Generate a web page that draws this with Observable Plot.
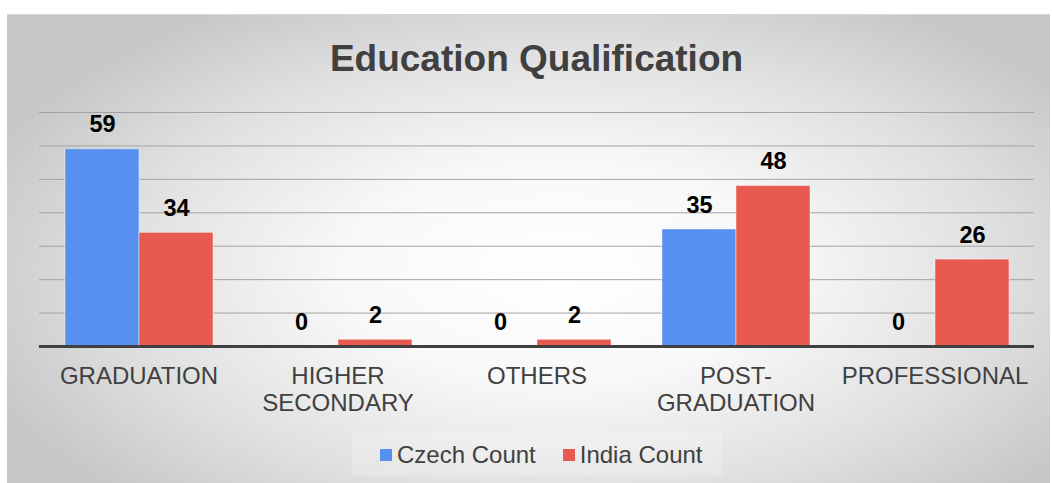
<!DOCTYPE html>
<html>
<head>
<meta charset="utf-8">
<script src="https://cdn.jsdelivr.net/npm/d3@7"></script>
<script src="https://cdn.jsdelivr.net/npm/@observablehq/plot@0.6"></script>
<style>
  html, body { margin: 0; padding: 0; background: #ffffff; }
  body { width: 1052px; height: 483px; position: relative; overflow: hidden;
         font-family: "Liberation Sans", Arial, sans-serif; }
  #frame { position: absolute; left: 7px; top: 14px; width: 1043px; height: 469px;
           border-top: 1px solid #d6d6d6;
           background: radial-gradient(ellipse 60% 68% at 53% 55%, #ffffff 0%, #f8f8f8 35%, #e0e0e0 70%, #c6c6c6 100%); }
  #title { position: absolute; left: 21px; width: 1031px; top: 40px; text-align: center;
           font-size: 37px; line-height: 37px; font-weight: bold; color: #404040; }
  #chart { position: absolute; left: 0; top: 105px; }
  #legendbox { position: absolute; left: 352px; top: 432px; width: 370px; height: 44px;
               background: rgba(255,255,255,0.2); }
  #legend { position: absolute; left: 380px; top: 441px; display: flex; align-items: center;
            font-size: 24px; color: #404040; line-height: 27px; }
  .sw { width: 12px; height: 12px; margin-right: 5px; display: inline-block; }
  .item { display: flex; align-items: center; margin-right: 27px; }
</style>
</head>
<body>
<div id="frame"></div>
<div id="title">Education Qualification</div>
<div id="chart"></div>
<div id="legendbox"></div>
<div id="legend"></div>
<script>
const categories = ["GRADUATION", "HIGHER SECONDARY", "OTHERS", "POST-GRADUATION", "PROFESSIONAL"];
const tickLabels = ["GRADUATION", "HIGHER\nSECONDARY", "OTHERS", "POST-\nGRADUATION", "PROFESSIONAL"];
const seriesNames = ["Czech Count", "India Count"];
const czechCount = [59, 0, 0, 35, 0];
const indiaCount = [34, 2, 2, 48, 26];
const seriesColors = ["#5890ef", "#e85a50"];
const gridTicks = [10, 20, 30, 40, 50, 60, 70];

const data = [];
categories.forEach((c, i) => {
  data.push({category: c, series: seriesNames[0], value: czechCount[i]});
  data.push({category: c, series: seriesNames[1], value: indiaCount[i]});
});

const plot = Plot.plot({
  width: 1052,
  height: 320,
  marginLeft: 38,
  marginRight: 17,
  marginTop: 7,
  marginBottom: 79,
  style: {background: "transparent", fontFamily: "'Liberation Sans', Arial, sans-serif", color: "#404040"},
  fx: {domain: categories, padding: 0},
  x: {domain: seriesNames, paddingInner: 0, paddingOuter: 0.336, axis: null},
  y: {domain: [0, 70], axis: null},
  color: {domain: seriesNames, range: seriesColors},
  marks: [
    Plot.ruleY(gridTicks, {stroke: "#a3a3a3", strokeWidth: 1}),
    Plot.barY(data, {fx: "category", x: "series", y: "value", fill: "series",
                     stroke: "rgba(255,255,255,0.45)", strokeWidth: 1}),
    Plot.ruleY([0], {stroke: "#404040", strokeWidth: 3}),
    Plot.text(data, {fx: "category", x: "series", y: "value", text: d => String(d.value),
                     lineAnchor: "bottom", dy: -17, fontWeight: "bold", fontSize: 23.5, fill: "#000000"}),
    Plot.axisFx({anchor: "bottom", tickSize: 0, tickPadding: 18, fontSize: 24, fill: "#404040",
                 lineHeight: 1.125, label: null,
                 tickFormat: d => tickLabels[categories.indexOf(d)]})
  ]
});
document.getElementById("chart").appendChild(plot);

const legend = document.getElementById("legend");
seriesNames.forEach((s, i) => {
  const item = document.createElement("div");
  item.className = "item";
  const sw = document.createElement("span");
  sw.className = "sw";
  sw.style.background = seriesColors[i];
  const t = document.createElement("span");
  t.textContent = s;
  item.appendChild(sw);
  item.appendChild(t);
  legend.appendChild(item);
});
</script>
</body>
</html>
